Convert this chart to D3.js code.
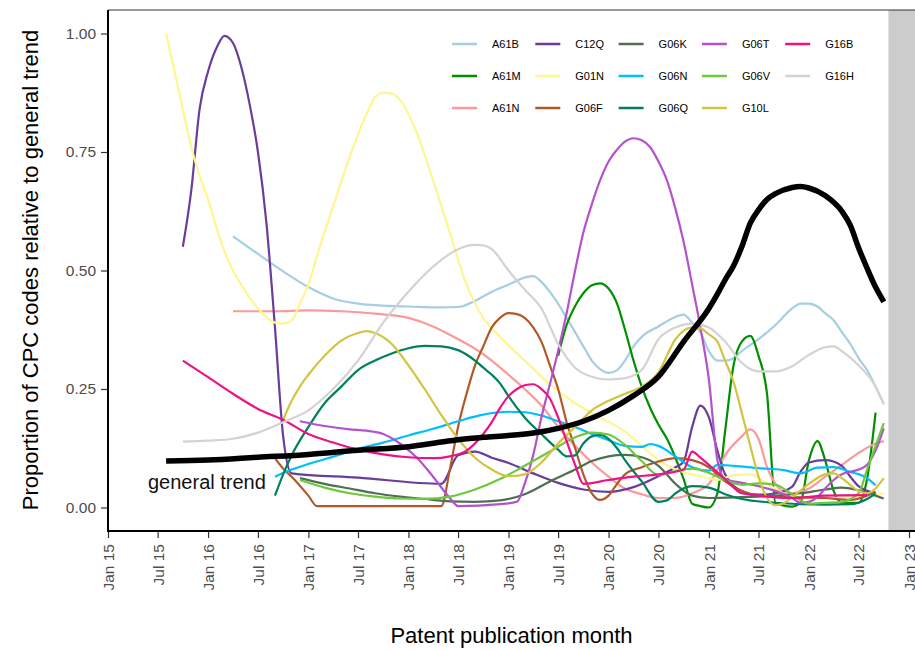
<!DOCTYPE html>
<html><head><meta charset="utf-8">
<script src="https://cdn.jsdelivr.net/npm/d3@7"></script>
<style>body{margin:0;background:#fff} svg{display:block;font-family:"Liberation Sans",Arial,Helvetica,sans-serif}</style>
</head><body><svg id="chart" width="915" height="650"></svg>
<script>
// ---------- DATA ----------
const TREND = [["2015-08",0.098],["2016-01",0.100],["2016-07",0.106],["2017-01",0.112],["2017-07",0.121],["2018-01",0.128],["2018-05",0.138],["2018-07",0.143],["2018-10",0.148],["2019-01",0.152],["2019-04",0.157],["2019-07",0.167],["2019-10",0.182],["2020-01",0.205],["2020-04",0.236],["2020-07",0.276],["2020-10",0.350],["2021-01",0.420],["2021-02",0.450],["2021-03",0.480],["2021-04",0.510],["2021-05",0.550],["2021-06",0.600],["2021-07",0.628],["2021-08",0.650],["2021-09",0.662],["2021-11",0.675],["2021-12",0.677],["2022-01",0.674],["2022-03",0.658],["2022-05",0.625],["2022-06",0.595],["2022-07",0.548],["2022-08",0.505],["2022-09",0.465],["2022-10",0.434]];

const A61B = [["2016-04",0.572],["2016-07",0.535],["2016-10",0.498],["2017-01",0.465],["2017-04",0.441],["2017-07",0.430],["2017-10",0.426],["2018-01",0.424],["2018-05",0.422],["2018-07",0.423],["2018-09",0.436],["2018-11",0.455],["2019-01",0.470],["2019-03",0.485],["2019-04",0.488],["2019-05",0.476],["2019-06",0.455],["2019-07",0.430],["2019-08",0.400],["2019-09",0.370],["2019-10",0.340],["2019-11",0.310],["2019-12",0.292],["2020-01",0.284],["2020-02",0.290],["2020-03",0.310],["2020-04",0.340],["2020-05",0.360],["2020-07",0.382],["2020-09",0.402],["2020-10",0.407],["2020-11",0.390],["2020-12",0.370],["2021-01",0.330],["2021-02",0.310],["2021-03",0.310],["2021-04",0.315],["2021-05",0.330],["2021-07",0.355],["2021-09",0.385],["2021-11",0.420],["2021-12",0.430],["2022-01",0.430],["2022-02",0.424],["2022-03",0.410],["2022-04",0.395],["2022-05",0.370],["2022-06",0.345],["2022-07",0.315],["2022-08",0.290],["2022-09",0.255],["2022-10",0.218]];

const A61M = [["2019-07",0.320],["2019-08",0.385],["2019-09",0.425],["2019-10",0.452],["2019-11",0.469],["2019-12",0.473],["2020-01",0.462],["2020-02",0.430],["2020-03",0.375],["2020-04",0.310],["2020-05",0.255],["2020-06",0.210],["2020-07",0.175],["2020-08",0.145],["2020-09",0.105],["2020-10",0.060],["2020-11",0.008],["2020-12",0.003],["2021-01",0.000],["2021-02",0.030],["2021-03",0.160],["2021-04",0.300],["2021-05",0.350],["2021-06",0.362],["2021-07",0.320],["2021-08",0.240],["2021-09",0.010],["2021-11",0.002],["2021-12",0.010],["2022-01",0.100],["2022-02",0.140],["2022-03",0.100],["2022-04",0.035],["2022-05",0.010],["2022-07",0.010],["2022-08",0.060],["2022-09",0.200]];

const A61N = [["2016-04",0.414],["2016-09",0.414],["2017-01",0.416],["2017-05",0.414],["2017-09",0.409],["2018-01",0.400],["2018-04",0.382],["2018-07",0.355],["2018-09",0.335],["2018-11",0.310],["2019-01",0.280],["2019-03",0.250],["2019-05",0.215],["2019-07",0.170],["2019-09",0.130],["2019-11",0.095],["2020-01",0.065],["2020-03",0.040],["2020-05",0.028],["2020-07",0.020],["2020-09",0.020],["2020-11",0.030],["2021-01",0.050],["2021-02",0.080],["2021-03",0.110],["2021-05",0.150],["2021-06",0.165],["2021-07",0.145],["2021-08",0.085],["2021-09",0.050],["2021-10",0.033],["2021-11",0.030],["2022-01",0.040],["2022-03",0.065],["2022-05",0.090],["2022-07",0.115],["2022-09",0.135],["2022-10",0.140]];

const C12Q = [["2015-10",0.550],["2015-11",0.670],["2015-12",0.840],["2016-01",0.920],["2016-02",0.970],["2016-03",0.995],["2016-04",0.980],["2016-05",0.930],["2016-06",0.850],["2016-07",0.750],["2016-08",0.600],["2016-09",0.380],["2016-10",0.150],["2016-11",0.072],["2017-07",0.063],["2018-05",0.050],["2018-07",0.110],["2018-09",0.118],["2018-11",0.105],["2019-01",0.094],["2019-04",0.072],["2019-07",0.052],["2019-10",0.038],["2020-01",0.033],["2020-04",0.043],["2020-07",0.066],["2020-09",0.085],["2020-10",0.097],["2020-11",0.170],["2020-12",0.215],["2021-01",0.190],["2021-02",0.120],["2021-03",0.070],["2021-05",0.035],["2021-07",0.027],["2021-09",0.030],["2021-11",0.044],["2021-12",0.075],["2022-01",0.095],["2022-03",0.100],["2022-05",0.088],["2022-06",0.065],["2022-07",0.045],["2022-09",0.030]];

const G01N = [["2015-08",1.000],["2015-09",0.920],["2015-10",0.840],["2015-11",0.760],["2015-12",0.700],["2016-01",0.650],["2016-02",0.590],["2016-03",0.540],["2016-04",0.500],["2016-05",0.470],["2016-07",0.420],["2016-09",0.390],["2016-10",0.388],["2016-11",0.395],["2016-12",0.430],["2017-01",0.470],["2017-02",0.530],["2017-04",0.635],["2017-06",0.740],["2017-08",0.830],["2017-09",0.865],["2017-10",0.875],["2017-11",0.873],["2017-12",0.860],["2018-02",0.790],["2018-04",0.690],["2018-06",0.580],["2018-08",0.470],["2018-10",0.400],["2018-12",0.360],["2019-03",0.310],["2019-06",0.260],["2019-09",0.220],["2019-12",0.190],["2020-03",0.160],["2020-05",0.130],["2020-07",0.100],["2020-09",0.080],["2020-11",0.070],["2021-01",0.062],["2021-02",0.058],["2021-04",0.068],["2021-06",0.070],["2021-08",0.050],["2021-10",0.030],["2022-01",0.020],["2022-04",0.020],["2022-07",0.025],["2022-10",0.030]];

const G06F = [["2016-09",0.104],["2016-10",0.082],["2016-11",0.065],["2017-01",0.025],["2017-02",0.003],["2018-05",0.003],["2018-06",0.080],["2018-07",0.170],["2018-08",0.240],["2018-09",0.300],["2018-10",0.340],["2018-11",0.380],["2018-12",0.400],["2019-01",0.410],["2019-02",0.408],["2019-03",0.400],["2019-04",0.380],["2019-05",0.350],["2019-06",0.300],["2019-07",0.250],["2019-08",0.180],["2019-09",0.125],["2019-10",0.070],["2019-11",0.030],["2019-12",0.016],["2020-01",0.025],["2020-02",0.050],["2020-03",0.070],["2020-05",0.085],["2020-07",0.097],["2020-09",0.104],["2020-11",0.100],["2021-01",0.085],["2021-03",0.055],["2021-05",0.035],["2021-07",0.025],["2021-11",0.022],["2022-03",0.020],["2022-06",0.016],["2022-08",0.025],["2022-09",0.033]];

const G06K = [["2016-12",0.062],["2017-03",0.050],["2017-06",0.040],["2017-09",0.030],["2017-12",0.023],["2018-03",0.018],["2018-06",0.013],["2018-09",0.012],["2018-12",0.015],["2019-03",0.028],["2019-06",0.055],["2019-09",0.080],["2019-11",0.098],["2020-01",0.108],["2020-03",0.111],["2020-05",0.106],["2020-07",0.088],["2020-09",0.050],["2020-11",0.025],["2021-01",0.020],["2021-05",0.022],["2021-09",0.025],["2021-12",0.030],["2022-03",0.038],["2022-05",0.042],["2022-07",0.036],["2022-09",0.025],["2022-10",0.019]];

const G06N = [["2016-09",0.065],["2016-11",0.080],["2017-01",0.092],["2017-04",0.107],["2017-07",0.124],["2017-10",0.137],["2018-01",0.152],["2018-04",0.166],["2018-07",0.182],["2018-10",0.196],["2019-01",0.202],["2019-03",0.201],["2019-05",0.194],["2019-07",0.182],["2019-09",0.170],["2019-11",0.155],["2020-01",0.142],["2020-03",0.130],["2020-05",0.128],["2020-06",0.134],["2020-07",0.130],["2020-09",0.108],["2020-11",0.085],["2021-01",0.078],["2021-02",0.090],["2021-04",0.088],["2021-07",0.083],["2021-10",0.079],["2021-12",0.072],["2022-02",0.084],["2022-04",0.085],["2022-06",0.075],["2022-08",0.062],["2022-09",0.047]];

const G06Q = [["2016-09",0.025],["2016-10",0.070],["2016-11",0.110],["2017-01",0.170],["2017-03",0.220],["2017-05",0.255],["2017-07",0.290],["2017-09",0.310],["2017-11",0.325],["2018-01",0.336],["2018-03",0.341],["2018-05",0.340],["2018-07",0.332],["2018-09",0.310],["2018-10",0.295],["2018-11",0.280],["2018-12",0.262],["2019-01",0.235],["2019-03",0.190],["2019-05",0.155],["2019-07",0.122],["2019-08",0.108],["2019-09",0.110],["2019-10",0.135],["2019-11",0.150],["2019-12",0.153],["2020-01",0.145],["2020-02",0.125],["2020-03",0.100],["2020-05",0.055],["2020-07",0.012],["2020-08",0.015],["2020-09",0.030],["2020-11",0.045],["2021-01",0.042],["2021-03",0.028],["2021-05",0.018],["2021-09",0.010],["2022-03",0.006],["2022-06",0.007],["2022-08",0.018],["2022-09",0.030]];

const G06T = [["2016-12",0.182],["2017-03",0.172],["2017-06",0.165],["2017-08",0.162],["2017-10",0.155],["2017-12",0.135],["2018-02",0.105],["2018-04",0.065],["2018-06",0.020],["2018-07",0.003],["2018-12",0.007],["2019-02",0.012],["2019-03",0.050],["2019-04",0.110],["2019-05",0.190],["2019-06",0.260],["2019-07",0.330],["2019-08",0.410],["2019-09",0.500],["2019-10",0.580],["2019-11",0.640],["2019-12",0.690],["2020-01",0.730],["2020-02",0.755],["2020-03",0.772],["2020-04",0.779],["2020-05",0.775],["2020-06",0.760],["2020-07",0.730],["2020-08",0.690],["2020-09",0.630],["2020-10",0.560],["2020-11",0.470],["2020-12",0.380],["2021-01",0.270],["2021-02",0.100],["2021-03",0.060],["2021-05",0.052],["2021-07",0.045],["2021-09",0.035],["2021-11",0.020],["2021-12",0.010],["2022-01",0.012],["2022-02",0.022],["2022-03",0.040],["2022-04",0.058],["2022-05",0.070],["2022-07",0.080],["2022-08",0.090],["2022-09",0.120],["2022-10",0.167]];

const G06V = [["2016-12",0.058],["2017-03",0.042],["2017-06",0.030],["2017-09",0.023],["2017-12",0.019],["2018-03",0.018],["2018-06",0.023],["2018-09",0.038],["2018-12",0.060],["2019-03",0.088],["2019-06",0.118],["2019-09",0.148],["2019-11",0.158],["2020-01",0.154],["2020-03",0.132],["2020-05",0.098],["2020-07",0.068],["2020-09",0.077],["2020-11",0.082],["2021-01",0.073],["2021-03",0.058],["2021-05",0.048],["2021-07",0.051],["2021-09",0.048],["2021-11",0.028],["2022-01",0.008],["2022-03",0.010],["2022-05",0.012],["2022-07",0.030],["2022-08",0.080],["2022-10",0.178]];

const G10L = [["2016-10",0.185],["2016-11",0.225],["2016-12",0.255],["2017-01",0.280],["2017-03",0.320],["2017-05",0.352],["2017-07",0.368],["2017-08",0.372],["2017-09",0.368],["2017-11",0.345],["2018-01",0.300],["2018-03",0.250],["2018-05",0.195],["2018-07",0.145],["2018-09",0.105],["2018-11",0.080],["2019-01",0.066],["2019-03",0.070],["2019-05",0.095],["2019-07",0.135],["2019-09",0.170],["2019-11",0.205],["2020-01",0.225],["2020-03",0.240],["2020-05",0.255],["2020-07",0.285],["2020-09",0.355],["2020-11",0.380],["2020-12",0.378],["2021-01",0.365],["2021-02",0.350],["2021-03",0.310],["2021-04",0.265],["2021-05",0.200],["2021-06",0.130],["2021-07",0.065],["2021-08",0.020],["2021-09",0.005],["2021-10",0.009],["2021-11",0.022],["2022-01",0.050],["2022-03",0.070],["2022-04",0.072],["2022-05",0.062],["2022-07",0.035],["2022-08",0.030],["2022-10",0.062]];

const G16B = [["2015-10",0.310],["2016-01",0.275],["2016-04",0.240],["2016-07",0.208],["2016-10",0.185],["2017-01",0.155],["2017-04",0.137],["2017-07",0.122],["2017-10",0.112],["2018-01",0.106],["2018-04",0.104],["2018-06",0.108],["2018-08",0.120],["2018-10",0.155],["2018-11",0.180],["2018-12",0.210],["2019-01",0.235],["2019-02",0.250],["2019-03",0.258],["2019-04",0.260],["2019-05",0.250],["2019-06",0.230],["2019-07",0.190],["2019-08",0.140],["2019-09",0.090],["2019-10",0.050],["2020-01",0.058],["2020-04",0.065],["2020-07",0.070],["2020-10",0.080],["2020-11",0.118],["2020-12",0.105],["2021-01",0.090],["2021-03",0.060],["2021-05",0.030],["2021-07",0.025],["2021-11",0.020],["2022-03",0.025],["2022-08",0.026]];

const G16H = [["2015-10",0.139],["2016-01",0.141],["2016-04",0.145],["2016-07",0.158],["2016-10",0.180],["2017-01",0.205],["2017-04",0.250],["2017-07",0.310],["2017-10",0.390],["2018-01",0.455],["2018-04",0.508],["2018-07",0.545],["2018-09",0.554],["2018-10",0.553],["2018-11",0.545],["2019-01",0.500],["2019-03",0.460],["2019-05",0.420],["2019-07",0.345],["2019-09",0.295],["2019-11",0.276],["2020-01",0.270],["2020-03",0.273],["2020-05",0.290],["2020-07",0.355],["2020-09",0.380],["2020-11",0.388],["2021-01",0.380],["2021-03",0.350],["2021-05",0.305],["2021-07",0.287],["2021-09",0.287],["2021-11",0.298],["2022-01",0.322],["2022-03",0.338],["2022-04",0.340],["2022-05",0.330],["2022-07",0.300],["2022-09",0.255],["2022-10",0.218]];

const codes = ["A61B","A61M","A61N","C12Q","G01N","G06F","G06K","G06N","G06Q","G06T","G06V","G10L","G16B","G16H"];
const codeColors = ["#a6cee3","#008f00","#fb9a99","#6a3d9a","#fff68f","#b15928","#4f6f52","#00bfff","#00805f","#b452cd","#6dc83c","#d2c441","#ee1289","#d3d3d3"];
const seriesValues = [A61B, A61M, A61N, C12Q, G01N, G06F, G06K, G06N, G06Q, G06T, G06V, G10L, G16B, G16H];

const xTickDates = ["2015-01","2015-07","2016-01","2016-07","2017-01","2017-07","2018-01","2018-07","2019-01","2019-07","2020-01","2020-07","2021-01","2021-07","2022-01","2022-07","2023-01"];
const yTickValues = [0, 0.25, 0.5, 0.75, 1];
const incompleteFrom = "2022-10-18";
const xTitle = "Patent publication month";
const yTitle = "Proportion of CPC codes relative to general trend";
const trendLabel = "general trend";

// ---------- DRAWING ----------
const parse = d3.timeParse("%Y-%m");
const parseDay = d3.timeParse("%Y-%m-%d");
const svg = d3.select("#chart");
const panel = {left:108, top:10, right:915, bottom:531};

const x = d3.scaleTime().domain([parse("2015-01"), parse("2023-01")]).range([108, 909]);
const y = d3.scaleLinear().domain([0, 1]).range([507.5, 33.5]);

svg.append("defs").append("clipPath").attr("id","clip")
  .append("rect").attr("x",panel.left).attr("y",panel.top)
  .attr("width",panel.right-panel.left).attr("height",panel.bottom-panel.top);

// grey "incomplete data" area
svg.append("rect")
  .attr("x", x(parseDay(incompleteFrom))).attr("y", panel.top)
  .attr("width", panel.right - x(parseDay(incompleteFrom)) + 5)
  .attr("height", panel.bottom - panel.top)
  .attr("fill", "#cccccc");

const line = d3.line()
  .x(d => x(parse(d[0])))
  .y(d => y(d[1]))
  .curve(d3.curveMonotoneX);

const g = svg.append("g").attr("clip-path","url(#clip)");
seriesValues.forEach((vals, i) => {
  g.append("path").datum(vals)
    .attr("d", line)
    .attr("fill","none")
    .attr("stroke", codeColors[i])
    .attr("stroke-width", 2.2)
    .attr("stroke-linejoin","round");
});
g.append("path").datum(TREND)
  .attr("d", line).attr("fill","none")
  .attr("stroke","#000").attr("stroke-width",5.5)
  .attr("stroke-linejoin","round");

// general trend label
svg.append("text").attr("x",148).attr("y",489)
  .attr("font-size",20).attr("fill","#111").text(trendLabel);

// axes
const xAxis = d3.axisBottom(x)
  .tickValues(xTickDates.map(parse))
  .tickFormat(d3.timeFormat("%b %y"))
  .tickSize(7).tickSizeOuter(0);
const gx = svg.append("g").attr("transform",`translate(0,${panel.bottom})`).call(xAxis);
gx.select(".domain").remove();
gx.selectAll(".tick line").attr("stroke","#333").attr("stroke-width",1.2);
gx.selectAll(".tick text")
  .attr("transform","rotate(-90)")
  .attr("x",-13).attr("y",0).attr("dy","0.35em")
  .style("text-anchor","end")
  .attr("font-size",15.5).attr("fill","#4d4d4d");

const yAxis = d3.axisLeft(y).tickValues(yTickValues).tickFormat(d3.format(".2f"))
  .tickSize(7).tickPadding(5).tickSizeOuter(0);
const gy = svg.append("g").attr("transform",`translate(${panel.left},0)`).call(yAxis);
gy.select(".domain").remove();
gy.selectAll(".tick line").attr("stroke","#333").attr("stroke-width",1.2);
gy.selectAll(".tick text").attr("font-size",15.5).attr("fill","#4d4d4d");

// panel border lines
svg.append("line").attr("x1",panel.left).attr("x2",panel.right).attr("y1",panel.top).attr("y2",panel.top)
  .attr("stroke","#333").attr("stroke-width",1);
svg.append("line").attr("x1",panel.left).attr("x2",panel.left).attr("y1",panel.top).attr("y2",panel.bottom+1)
  .attr("stroke","#000").attr("stroke-width",2);
svg.append("line").attr("x1",panel.left-1).attr("x2",panel.right).attr("y1",panel.bottom).attr("y2",panel.bottom)
  .attr("stroke","#000").attr("stroke-width",2);

// titles
svg.append("text").attr("x",511.5).attr("y",643).attr("text-anchor","middle")
  .attr("font-size",22).attr("fill","#000").text(xTitle);
svg.append("text").attr("transform","translate(38,270) rotate(-90)").attr("text-anchor","middle")
  .attr("font-size",22).attr("fill","#000").text(yTitle);

// legend
const leg = svg.append("g");
codes.forEach((c, i) => {
  const col = Math.floor(i / 3), row = i % 3;
  const lx = 452 + col * 83.3, ly = 44 + row * 32;
  leg.append("line").attr("x1",lx).attr("x2",lx+25).attr("y1",ly).attr("y2",ly)
    .attr("stroke",codeColors[i]).attr("stroke-width",2.5);
  leg.append("text").attr("x",lx+40).attr("y",ly).attr("dy","0.35em")
    .attr("font-size",11).attr("fill","#000").text(c);
});
</script></body></html>
